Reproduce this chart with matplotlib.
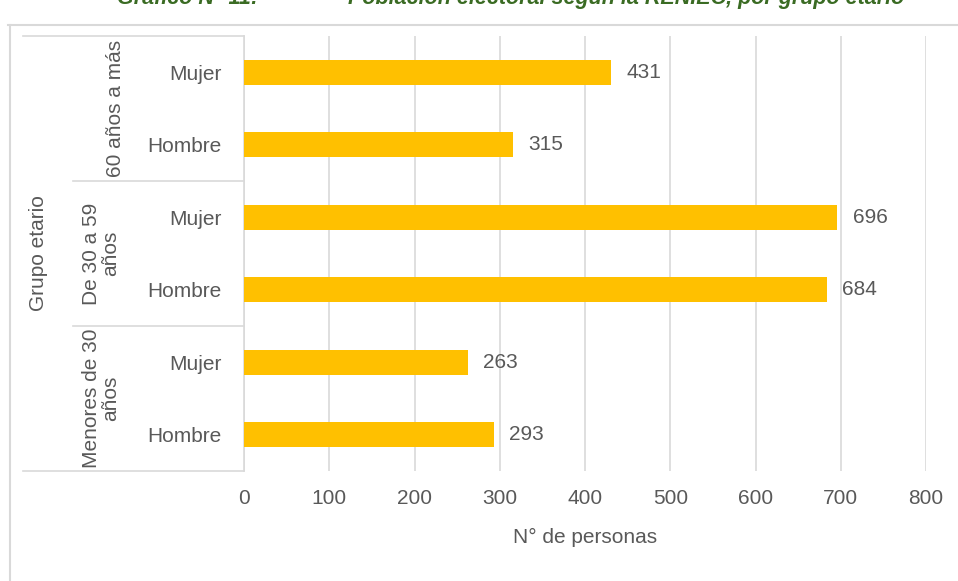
import numpy as np
import matplotlib
matplotlib.use('Agg')
import matplotlib.pyplot as plt
from matplotlib.lines import Line2D

plt.rcParams['font.family'] = ['Liberation Sans Narrow', 'Liberation Sans', 'DejaVu Sans']

# datos (de arriba hacia abajo)
grupos = ['60 años a más', 'De 30 a 59\naños', 'Menores de 30\naños']
sexos = ['Mujer', 'Hombre', 'Mujer', 'Hombre', 'Mujer', 'Hombre']
valores = [431, 315, 696, 684, 263, 293]
xticks = [0, 100, 200, 300, 400, 500, 600, 700, 800]

GRIS = '#595959'
LINEA = '#D9D9D9'
AMARILLO = '#FFC000'
VERDE = '#3A6B23'
FS = 15

fig = plt.figure(figsize=(9.58, 5.81), dpi=100)
ax = fig.add_axes([0.2547, 0.1893, 0.7119, 0.7487])

y = np.arange(len(valores))
ax.barh(y, valores, height=0.35, color=AMARILLO, zorder=3)
for yi, v in zip(y, valores):
    ax.annotate(str(v), xy=(v, yi), xytext=(11, 0), textcoords='offset points',
                va='center', ha='left', fontsize=FS, color=GRIS)

ax.set_xlim(0, 800)
ax.set_ylim(5.5, -0.5)
ax.set_xticks(xticks)
ax.set_yticks(y)
ax.set_yticklabels(sexos)
ax.tick_params(axis='y', length=0, pad=16, labelsize=FS, labelcolor=GRIS)
ax.tick_params(axis='x', length=0, pad=13, labelsize=FS, labelcolor=GRIS)
ax.grid(axis='x', color=LINEA, linewidth=1.2, zorder=0)
for s in ['top', 'right', 'bottom']:
    ax.spines[s].set_visible(False)
ax.spines['left'].set_color(LINEA)
ax.spines['left'].set_linewidth(1.2)
ax.set_xlabel('N° de personas', fontsize=FS, color=GRIS, labelpad=14)

# lineas separadoras de grupos
tr = ax.get_yaxis_transform()
for yy, x0 in [(-0.5, -0.324), (5.5, -0.324), (1.5, -0.2507), (3.5, -0.2507)]:
    ax.plot([x0, 0], [yy, yy], transform=tr, color=LINEA, lw=1.2, clip_on=False)

# etiquetas de grupo
ax.text(-0.188, 0.5, grupos[0], transform=tr, rotation=90, ha='center', va='center',
        fontsize=FS, color=GRIS)
ax.text(-0.209, 2.5, grupos[1], transform=tr, rotation=90, ha='center', va='center',
        fontsize=FS, color=GRIS, multialignment='center', linespacing=1.0)
ax.text(-0.209, 4.5, grupos[2], transform=tr, rotation=90, ha='center', va='center',
        fontsize=FS, color=GRIS, multialignment='center', linespacing=1.0)
ax.text(-0.302, 2.5, 'Grupo etario', transform=tr, rotation=90, ha='center', va='center',
        fontsize=FS, color=GRIS)

# marco exterior
fig.add_artist(Line2D([8 / 958, 1], [1 - 25 / 581, 1 - 25 / 581], transform=fig.transFigure,
                      color=LINEA, lw=1.5))
fig.add_artist(Line2D([10 / 958, 10 / 958], [0, 1 - 25 / 581], transform=fig.transFigure,
                      color=LINEA, lw=1.5))

# titulo (cortado en la parte superior, como en el original)
fig.text(117 / 958, 1 - 4 / 581, 'Gráfico N° 11:', ha='left', va='baseline',
         fontsize=15.5, fontweight='bold', fontstyle='italic', color=VERDE)
fig.text(348 / 958, 1 - 4 / 581, 'Población electoral según la RENIEC, por grupo etario',
         ha='left', va='baseline', fontsize=15.5, fontweight='bold', fontstyle='italic',
         color=VERDE)

fig.savefig('out.png', dpi=100)
